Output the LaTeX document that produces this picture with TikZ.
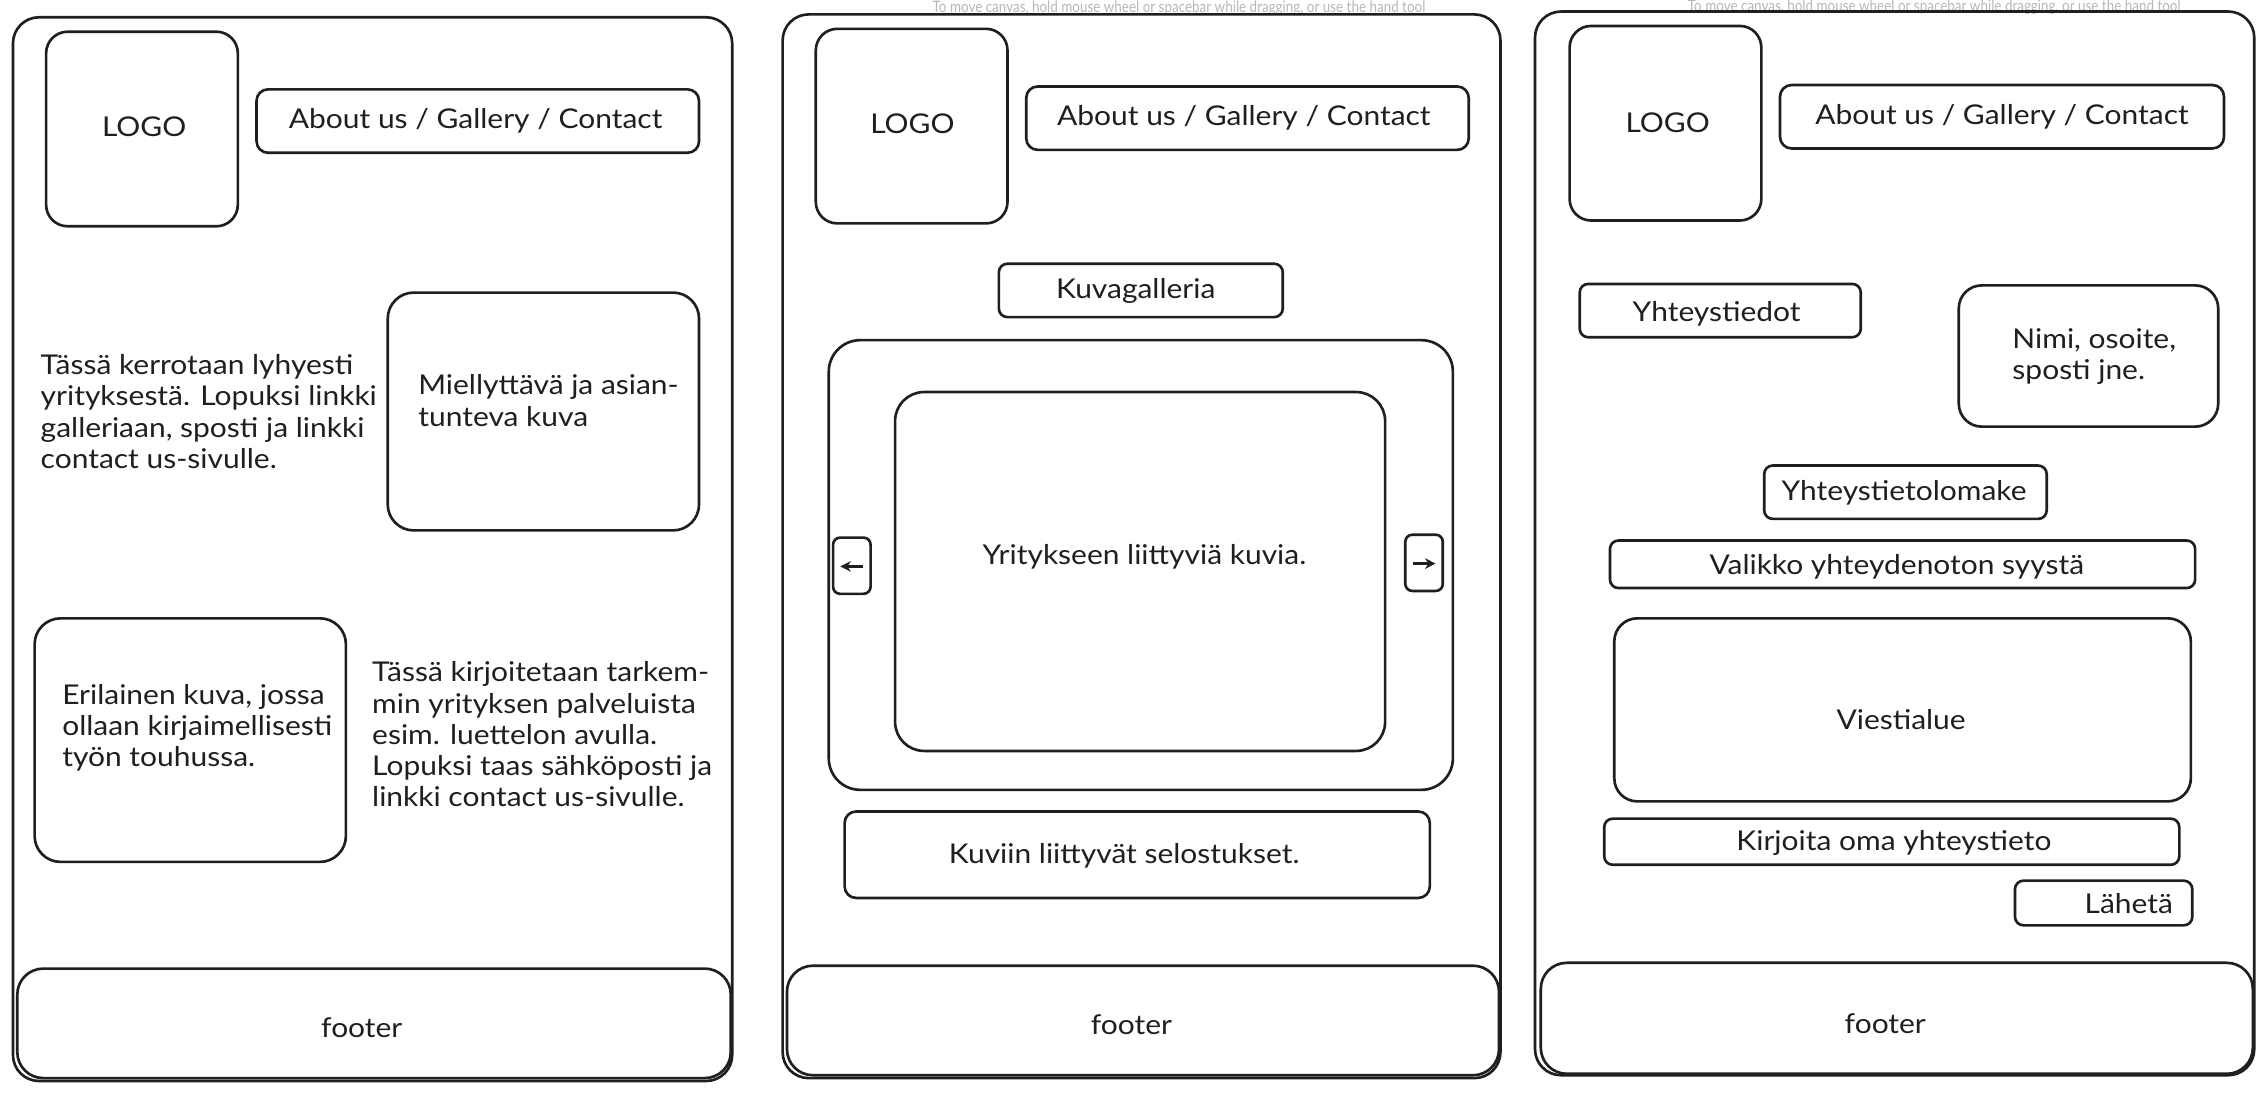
\documentclass[tikz,border=0pt]{standalone}
\usepackage{fontspec}
\usepackage{graphicx}
\setmainfont{Lato}[FakeStretch=1.1]
\newfontfamily\hintfont{Lato}
\usetikzlibrary{fit,arrows.meta}
\begin{document}
\begin{tikzpicture}[x=0.028826cm,y=-0.028826cm,
  sk/.style={draw=black!88, line width=1.5pt, inner sep=0pt},
  txt/.style={font=\fontsize{15.5}{17.8}\selectfont, text=black!88, inner sep=0pt},
  lbl/.style={txt, align=left, anchor=west},
  faint/.style={font=\hintfont\fontsize{9}{10}\selectfont, text=black!28, inner sep=0pt, anchor=base},
  arr/.style={draw=black!88, line width=1.5pt, -{Stealth[length=6pt,width=6pt]}}]
\useasboundingbox (0,0) rectangle (1568,758);
\fill[white] (0,0) rectangle (1568,758);
% UI hints
\node[faint] (hint1) at (818,9) {\scalebox{0.85}[1]{To move canvas, hold mouse wheel or spacebar while dragging, or use the hand tool}};
\node[faint] (hint2) at (1342,8) {\scalebox{0.85}[1]{To move canvas, hold mouse wheel or spacebar while dragging, or use the hand tool}};

% ---------- Panel 1 ----------
\node[sk, rounded corners=0.52cm, fit={(9,12) (508,750)}] (frame1) {};
\node[sk, rounded corners=0.43cm, fit={(32,22) (165,157)}] (logo1) {};
\node[txt] (tlogo1) at (100,88) {LOGO};
\node[sk, rounded corners=0.23cm, fit={(178,62) (485,106)}] (nav1) {};
\node[txt] (tnav1) at (330,84) {About us / Gallery / Contact};
\node[lbl] (intro1) at (28,285.5) {Tässä kerrotaan lyhyesti\\yrityksestä. Lopuksi linkki\\galleriaan, sposti ja linkki\\contact us-sivulle.};
\node[sk, rounded corners=0.52cm, fit={(269,203) (485,368)}] (img1) {};
\node[lbl] (timg1) at (290,278) {Miellyttävä ja asian-\\tunteva kuva};
\node[sk, rounded corners=0.52cm, fit={(24,429) (240,598)}] (img2) {};
\node[lbl] (timg2) at (43,505) {Erilainen kuva, jossa\\ollaan kirjaimellisesti\\työn touhussa.};
\node[lbl] (serv1) at (258,509.5) {Tässä kirjoitetaan tarkem-\\min yrityksen palveluista\\esim. luettelon avulla.\\Lopuksi taas sähköposti ja\\linkki contact us-sivulle.};
\node[sk, rounded corners=0.52cm, fit={(12,672) (507,748)}] (foot1) {};
\node[txt] (tfoot1) at (251,713) {footer};

% ---------- Panel 2 ----------
\node[sk, rounded corners=0.52cm, fit={(543,10) (1041,748)}] (frame2) {};
\node[sk, rounded corners=0.43cm, fit={(566,20) (699,155)}] (logo2) {};
\node[txt] (tlogo2) at (633,86) {LOGO};
\node[sk, rounded corners=0.23cm, fit={(712,60) (1019,104)}] (nav2) {};
\node[txt] (tnav2) at (863,82) {About us / Gallery / Contact};
\node[sk, rounded corners=0.17cm, fit={(693,183) (890,220)}] (galt) {};
\node[txt] (tgalt) at (788,202) {Kuvagalleria};
\node[sk, rounded corners=0.63cm, fit={(575,236) (1008,548)}] (galout) {};
\node[sk, rounded corners=0.58cm, fit={(621,272) (961,521)}] (galin) {};
\node[txt] (tgalin) at (794,386) {Yritykseen liittyviä kuvia.};
\node[sk, rounded corners=0.14cm, fit={(578,373) (604,412)}] (btnl) {};
\node[sk, rounded corners=0.14cm, fit={(975,371) (1001,410)}] (btnr) {};
\coordinate (al1) at (599,393);
\coordinate (al2) at (583,393);
\coordinate (ar1) at (980,391);
\coordinate (ar2) at (996,391);
\draw[arr] (al1) -- (al2);
\draw[arr] (ar1) -- (ar2);
\node[sk, rounded corners=0.23cm, fit={(586,563) (992,623)}] (capt) {};
\node[txt] (tcapt) at (780,594) {Kuviin liittyvät selostukset.};
\node[sk, rounded corners=0.52cm, fit={(546,670) (1040,746)}] (foot2) {};
\node[txt] (tfoot2) at (785,711) {footer};

% ---------- Panel 3 ----------
\node[sk, rounded corners=0.52cm, fit={(1065,8) (1564,746)}] (frame3) {};
\node[sk, rounded corners=0.43cm, fit={(1089,18) (1222,153)}] (logo3) {};
\node[txt] (tlogo3) at (1157,85) {LOGO};
\node[sk, rounded corners=0.23cm, fit={(1235,59) (1543,103)}] (nav3) {};
\node[txt] (tnav3) at (1389,81) {About us / Gallery / Contact};
\node[sk, rounded corners=0.17cm, fit={(1096,197) (1291,234)}] (yht) {};
\node[txt] (tyht) at (1191,218) {Yhteystiedot};
\node[sk, rounded corners=0.46cm, fit={(1359,198) (1539,296)}] (nimi) {};
\node[lbl] (tnimi) at (1396,247.5) {Nimi, osoite,\\sposti jne.};
\node[sk, rounded corners=0.17cm, fit={(1224,323) (1420,360)}] (lom) {};
\node[txt] (tlom) at (1321,342) {Yhteystietolomake};
\node[sk, rounded corners=0.17cm, fit={(1117,375) (1523,408)}] (val) {};
\node[txt] (tval) at (1316,393) {Valikko yhteydenoton syystä};
\node[sk, rounded corners=0.46cm, fit={(1120,429) (1520,556)}] (viesti) {};
\node[txt] (tviesti) at (1319,499) {Viestialue};
\node[sk, rounded corners=0.17cm, fit={(1113,568) (1512,600)}] (kirj) {};
\node[txt] (tkirj) at (1314,585) {Kirjoita oma yhteystieto};
\node[sk, rounded corners=0.17cm, fit={(1398,611) (1521,642)}] (lah) {};
\node[txt] (tlah) at (1477,627) {Lähetä};
\node[sk, rounded corners=0.52cm, fit={(1069,668) (1563,745)}] (foot3) {};
\node[txt] (tfoot3) at (1308,710) {footer};
\end{tikzpicture}
\end{document}
